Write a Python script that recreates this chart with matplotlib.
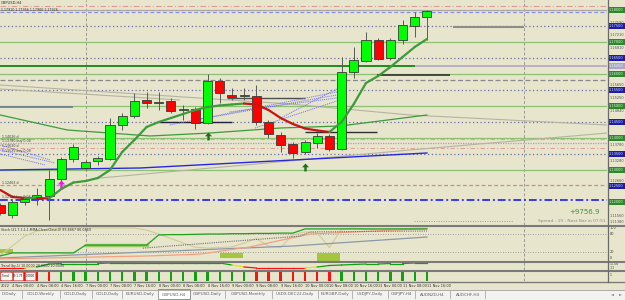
import numpy as np
import matplotlib
matplotlib.use("Agg")
import matplotlib.pyplot as plt
from matplotlib.patches import Rectangle
from matplotlib.lines import Line2D
from matplotlib.transforms import blended_transform_factory

plt.rcParams['font.family'] = ['DejaVu Sans']

# GBPUSD,H4 candles (3 Nov 20:00 .. 11 Nov 20:00)
opens = [1.11906, 1.11594, 1.12000, 1.12094, 1.12188, 1.12719, 1.13344, 1.13063, 1.13281,
         1.13344, 1.14406, 1.14688, 1.15188, 1.15094, 1.15156, 1.14875, 1.14906, 1.14469,
         1.15781, 1.15344, 1.15313, 1.15313, 1.14500, 1.14094, 1.13813, 1.13563, 1.13844,
         1.14063, 1.13656, 1.16063, 1.16406, 1.17063, 1.16500, 1.17063, 1.17500, 1.17781]
highs = [1.11969, 1.12063, 1.12188, 1.12438, 1.13000, 1.13406, 1.13813, 1.13313, 1.13438,
         1.14625, 1.14781, 1.15406, 1.15438, 1.15438, 1.15250, 1.15031, 1.14969, 1.16000,
         1.15875, 1.15563, 1.15563, 1.15656, 1.14563, 1.14188, 1.13875, 1.13938, 1.14156,
         1.14125, 1.16531, 1.16844, 1.17313, 1.17125, 1.17125, 1.17688, 1.17938, 1.18000]
lows = [1.11594, 1.11500, 1.11906, 1.11906, 1.11438, 1.12656, 1.13250, 1.13000, 1.13156,
        1.13313, 1.14250, 1.14625, 1.14938, 1.14875, 1.14781, 1.14563, 1.14281, 1.14438,
        1.15094, 1.15188, 1.15188, 1.14406, 1.14000, 1.13563, 1.13375, 1.13500, 1.13688,
        1.13594, 1.13625, 1.15875, 1.16375, 1.16438, 1.16438, 1.16938, 1.17156, 1.17063]
closes = [1.11656, 1.12000, 1.12094, 1.12219, 1.12719, 1.13344, 1.13719, 1.13250, 1.13375,
          1.14406, 1.14688, 1.15156, 1.15094, 1.15125, 1.14844, 1.14906, 1.14469, 1.15781,
          1.15406, 1.15281, 1.15344, 1.14500, 1.14125, 1.13781, 1.13531, 1.13875, 1.14063,
          1.13656, 1.16063, 1.16438, 1.17063, 1.16469, 1.17063, 1.17531, 1.17781, 1.17969]

# fast MA (green when rising, red when falling)
ma_fast = [1.12375, 1.12156, 1.12125, 1.12125, 1.12109, 1.12406, 1.12609, 1.12656, 1.12750,
           1.13000, 1.13563, 1.13938, 1.14344, 1.14500, 1.14625, 1.14750, 1.14875, 1.14969,
           1.15016, 1.15047, 1.15078, 1.15047, 1.14875, 1.14625, 1.14438, 1.14297, 1.14234,
           1.14188, 1.14500, 1.15063, 1.15719, 1.15938, 1.16219, 1.16531, 1.16844, 1.17094]
# slow MA vertices (bar, price)
slow_x = [0, 5.5, 12.3, 17.2, 23.0, 27.9, 35]
slow_y = [1.14719, 1.14250, 1.14063, 1.14156, 1.14313, 1.14375, 1.14719]
# blue trend line
trend_x = [0, 11.5, 35]
trend_y = [1.13000, 1.13063, 1.13531]

# horizontal levels: price, colour, style, width
levels = [
    (1.18125, '#e09a9a', (0, (5, 2, 1, 2)), 0.8),
    (1.18000, '#a8a8a0', '-', 0.9),
    (1.17938, '#8c8cf0', (0, (3, 2)), 0.9),
    (1.17500, '#6a6aa8', (0, (1, 2)), 0.9),
    (1.17000, '#8cc274', '-', 0.9),
    (1.16500, '#6a6aa8', (0, (1, 2)), 0.9),
    (1.16000, '#8cc274', '-', 0.9),
    (1.15813, '#8a8a8a', (0, (4, 2)), 0.9),
    (1.15500, '#6a6aa8', (0, (1, 2)), 0.9),
    (1.15000, '#8cc274', '-', 0.9),
    (1.14500, '#6a6aa8', (0, (1, 2)), 0.9),
    (1.14000, '#8cc274', '-', 0.9),
    (1.13969, '#e0a0a0', (0, (4, 2, 1, 2)), 0.8),
    (1.13844, '#a0a0d8', (0, (1, 1)), 0.9),
    (1.13688, '#e0a0a0', (0, (4, 2, 1, 2)), 0.8),
    (1.13500, '#6a6aa8', (0, (1, 2)), 0.9),
    (1.13000, '#8cc274', '-', 0.9),
    (1.12531, '#d08888', (0, (3, 2)), 0.9),
    (1.12063, '#3a3af0', (0, (4, 1.5, 1, 1.5)), 1.4),
]
# short horizontal segments: bar from, bar to, price, colour, width
segments = [
    (0, 34.0, 1.16250, '#1e8c1e', 1.4),
    (34.0, 50, 1.16250, '#b4acc8', 1.3),
    (30.9, 36.9, 1.15969, '#303030', 1.2),
    (37.1, 43.0, 1.17469, '#8c8c8c', 1.5),
    (18.6, 25.0, 1.15250, '#505050', 1.0),
    (25.0, 30.9, 1.14188, '#303030', 1.0),
    (13.0, 19.0, 1.14500, '#202040', 1.0),
    (0, 6.0, 1.14969, '#6a7a98', 1.2),
]
# faint gray lines (bar list, price list)
gray_lines = [
    ([0, 23.8, 33.6, 49.8], [1.15656, 1.15063, 1.14719, 1.14406]),
    ([0, 14.7], [1.15531, 1.15188]),
    ([8.2, 24.6, 33.6, 49.8], [1.12750, 1.13313, 1.13625, 1.14156]),
]
# blue dotted fan lines ((bar0, price0), (bar1, price1))
fan_lines = [
    ((13.9, 1.14406), (27.6, 1.15438)),
    ((16.0, 1.14563), (27.6, 1.15344)),
    ((18.8, 1.14813), (27.6, 1.15250)),
    ((20.9, 1.14313), (27.6, 1.15156)),
    ((23.0, 1.14625), (27.6, 1.15531)),
    ((0, 1.13781), (4.1, 1.13313)),
    ((0, 1.13625), (4.5, 1.13219)),
    ((0, 1.13500), (3.7, 1.13156)),
]
# signal arrows: bar, price, colour
arrows = [(17, 1.14063, '#1e6e1e'), (25, 1.13109, '#1e6e1e'), (5, 1.12547, '#e020e0')]
# left-side order labels
order_y = [1.14031, 1.13906, 1.13750, 1.13594, 1.12594, 1.12156]
order_txt = ["1.14026 d", "1.13780 buy 0.08", "1.13630 d", "1.13525 buy 0.08",
             "1.12463 d", "1.12123 buy 0.08"]

green_lv = [1.18, 1.17, 1.16, 1.15, 1.14, 1.13, 1.12]
blue_lv = [1.175, 1.165, 1.155, 1.145, 1.135, 1.125]
gray_ticks = [1.17590, 1.17210, 1.16810, 1.15650, 1.15250, 1.14840, 1.13780, 1.13280,
              1.12660, 1.11560, 1.11380]

# stochastic-like sub window
sub_green = [7, 17, 17, 17, 17, 17, 17, 43, 43, 43, 43, 43, 43, 77, 78, 78, 79, 80, 80, 81,
             81, 82, 82, 83, 83, 97, 97, 97, 97, 97, 97, 97, 97, 97, 97, 97]
sub_tan = [10, 40, 73, 90, 97, 100, 100, 100, 100, 100, 100, 100, 93, 80, 65, 50, 36, 33, 35,
           37, 50, 65, 40, 35, 77, 87, 84, 35, 97, 100, 97, 93, 97, 97, 100, 100]
sub_gray_x = [0, 12, 24, 35]
sub_gray_y = [0, 20, 40, 70]
sub_salmon_x = [0, 12.3, 16.4, 20.5, 25.4, 35]
sub_salmon_y = [-3, 7, 13, 37, 80, 98]
sub_dot_x = [11.7, 24.6, 25.4, 35]
sub_dot_y = [33, 73, 87, 90]
sub_boxes = [(-0.02, 1.04, 17, 30), (18.0, 19.9, 0, 17), (26.0, 27.9, -10, 17)]

# trend sub window
trend_vals = [2.5, 2.5, 2.5, 3.75, 7.5, 8.1, 8.1, 8.1, 8.1, 8.75, 8.75, 8.75, 8.75, 8.75,
              8.75, 8.75, 8.75, 8.75, 8.75, 6.25, 3.75, 2.5, 2.5, 2.5, 2.5, 2.5, 3.75, 5.6,
              6.25, 6.9, 7.5, 7.5, 8.1, 8.1, 8.75, 8.75]
trend_cols = list("rrryggggggggggggggggyrrrrrygggggggggg")[:36]
bar_cols = list("rrrrr" + "g" * 16 + "r" * 7 + "g" * 8)

time_labels = ["4 Nov 00:00", "4 Nov 08:00", "4 Nov 16:00", "7 Nov 00:00", "7 Nov 08:00",
               "7 Nov 16:00", "8 Nov 00:00", "8 Nov 08:00", "8 Nov 16:00", "9 Nov 00:00",
               "9 Nov 08:00", "9 Nov 16:00", "10 Nov 00:00", "10 Nov 08:00", "10 Nov 16:00",
               "11 Nov 00:00", "11 Nov 08:00", "11 Nov 16:00"]
tabs = ["D,Daily", "GOLD,Weekly", "GOLD,Daily", "GOLD,Daily", "EURUSD,Daily", "GBPUSD,H4",
        "GBPUSD,Daily", "GBPUSD,Monthly", "USDX-DEC22,Daily", "EURGBP,Daily", "USDJPY,Daily",
        "GBPJPY,H4", "AUDNZD,H4", "AUDCHF,H4"]
tab_edges = [-5, 22, 60, 92, 122, 158, 190, 225, 272, 318, 352, 388, 415, 450, 485]

BG = '#E7E5CB'
CMAP = {'r': '#ff1010', 'g': '#10a010', 'y': '#e8e020'}
W, H = 625, 300
XL = (-0.3 / 12.19, (607 - 0.3) / 12.19)
YTOP, PX = 1.183125, 0.0003125
ARROW = [(0, 1), (-0.9, 0.05), (-0.3, 0.05), (-0.3, -1), (0.3, -1), (0.3, 0.05),
         (0.9, 0.05), (0, 1)]

fig = plt.figure(figsize=(6.25, 3.0), dpi=100)
fig.patch.set_facecolor(BG)


def px_axes(x0, y0, x1, y1):
    return fig.add_axes([x0 / W, 1 - y1 / H, (x1 - x0) / W, (y1 - y0) / H])


ax = px_axes(0, 0, 607, 225)
s1 = px_axes(0, 226, 607, 261)
s2 = px_axes(0, 262, 607, 270)
s3 = px_axes(0, 271, 607, 281)
for a in (ax, s1, s2, s3):
    a.set_facecolor(BG)
    a.set_xlim(XL)
    a.set_xticks([])
    a.set_yticks([])
    for sp in a.spines.values():
        sp.set_visible(False)
ax.set_ylim(YTOP - 225 * PX, YTOP)
s1.set_ylim(-10, 106.7)
s2.set_ylim(0, 10)
s3.set_ylim(0, 1)

# ---- main window ----
for p, col, ls, lw in levels:
    ax.axhline(p, color=col, ls=ls, lw=lw, zorder=1)
for x0, x1, p, col, lw in segments:
    ax.hlines(p, x0, x1, color=col, lw=lw, zorder=2)
for xs, ys in gray_lines:
    ax.plot(xs, ys, color='#b4b4a0', lw=0.8, zorder=1)
for (x0, y0), (x1, y1) in fan_lines:
    ax.plot([x0, x1], [y0, y1], color='#7070f0', lw=0.7, ls=(0, (1, 1)), zorder=2)
ax.plot(trend_x, trend_y, color='#2828e0', lw=1.0, zorder=2)
ax.plot(slow_x, slow_y, color='#3c9c3c', lw=0.9, zorder=3)
ax.hlines(1.11406, 33.9, 42.1, color='#9a9a8a', lw=0.7, ls=(0, (1, 1.5)))

for i in range(len(ma_fast) - 1):
    col = '#3c9c3c' if ma_fast[i + 1] >= ma_fast[i] else '#c81414'
    ax.plot([i, i + 1], ma_fast[i:i + 2], color=col, lw=1.6, zorder=6,
            solid_capstyle='round')

o, h, l, c = map(np.array, (opens, highs, lows, closes))
idx = np.arange(len(o))
up = c >= o
ax.vlines(idx, l, h, color='#5a5a5a', lw=0.7, zorder=4)
ax.bar(idx, np.maximum(np.abs(c - o), 0.0003), bottom=np.minimum(o, c), width=0.74,
       color=np.where(up, '#00ff00', '#ff0000'), edgecolor='#3a3a3a', linewidth=0.6,
       zorder=5)

for bx, p, col in arrows:
    ax.scatter([bx], [p], marker=ARROW, s=32, color=col, zorder=7, linewidths=0)
for p, t in zip(order_y, order_txt):
    ax.text(0.1, p, t, fontsize=2.3, color='#404040', va='center', ha='left', zorder=7)

ytr = ax.get_yaxis_transform()
for p in green_lv:
    ax.text(1.003, p, f"{p:.5f}", transform=ytr, fontsize=2.5, color='#e8f0e8', va='center',
            ha='left', clip_on=False,
            bbox=dict(boxstyle='square,pad=0.35', fc='#2a8a2a', ec='none'))
for p in blue_lv:
    ax.text(1.003, p, f"{p:.5f}", transform=ytr, fontsize=2.5, color='#e0e0f8', va='center',
            ha='left', clip_on=False,
            bbox=dict(boxstyle='square,pad=0.35', fc='#1e1ea0', ec='none'))
ax.text(1.003, 1.1625, "1.16250", transform=ytr, fontsize=2.5, color='#f0f0f0', va='center',
        ha='left', clip_on=False,
        bbox=dict(boxstyle='square,pad=0.35', fc='#a8a8c8', ec='none'))
for p in gray_ticks:
    ax.text(1.004, p, f"{p:.5f}", transform=ytr, fontsize=2.5, color='#505050', va='center',
            ha='left', clip_on=False)

fig.text(1 / W, 1 - 3 / H, "GBPUSD,H4", fontsize=2.6, color='#303030', va='center')
fig.text(1 / W, 1 - 10 / H, "1.17910 1.17956 1.17900 1.17926", fontsize=2.3,
         color='#303030', va='center')
fig.text(600 / W, 1 - 212 / H, "+9756.9", fontsize=5, color='#3e903e', va='center',
         ha='right')
fig.text(606 / W, 1 - 221 / H, "Spread : 19 : Next Bar in 07:51", fontsize=3.2,
         color='#8a8a80', va='center', ha='right')

# ---- sub window 1 ----
for lv in (80, 20):
    s1.axhline(lv, color='#8a8a8a', lw=0.6, ls=(0, (1, 2)))
for x0, x1, v0, v1 in sub_boxes:
    s1.add_patch(Rectangle((x0, v0), x1 - x0, v1 - v0, fc='#a3c63c', ec='none', zorder=1))
s1.plot(idx, sub_tan, color='#d2ca98', lw=0.8, zorder=2)
s1.plot(sub_gray_x, sub_gray_y, color='#8c98a8', lw=0.9, zorder=2)
s1.plot(sub_salmon_x, sub_salmon_y, color='#f4a080', lw=0.9, zorder=2)
s1.plot(sub_dot_x, sub_dot_y, color='#707070', lw=0.8, ls=(0, (1, 1)), zorder=3)
s1.plot(idx[7:13], sub_green[7:13], color='#9ccc6a', lw=2.5, zorder=3)
s1.plot(idx, sub_green, color='#20a020', lw=0.9, zorder=4)
s1.text(0.002, 0.88, "Stoch (21,7,3,1,1,MMA,Close/Close,0) 85.6667 86.0869",
        transform=s1.transAxes, fontsize=2.3, color='#303030', va='center')
for v in (100, 80, 20, 0):
    s1.text(1.004, v, str(v), transform=s1.get_yaxis_transform(), fontsize=2.5,
            color='#404040', va='center', clip_on=False)

# ---- sub window 2 ----
for i in range(1, len(trend_vals)):
    s2.plot([i - 1, i], trend_vals[i - 1:i + 1], color=CMAP[trend_cols[i]], lw=0.9)
s2.text(0.002, 0.5, "Trend (by-1) 10.0000 20.0000 10.0000", transform=s2.transAxes,
        fontsize=2.3, color='#303030', va='center')
s2.text(1.004, 8, "11.56", transform=s2.get_yaxis_transform(), fontsize=2.3,
        color='#404040', va='center', clip_on=False)
s2.text(1.004, 3, "-11", transform=s2.get_yaxis_transform(), fontsize=2.3,
        color='#404040', va='center', clip_on=False)

# ---- sub window 3 ----
s3.bar(idx, 0.85, bottom=0.05, width=0.2, color=[CMAP[k] for k in bar_cols])
for x0, x1, t in [(0, 12, "Trend"), (13, 23, "19.1.75"), (25, 35, "0.0000")]:
    fig.add_artist(Rectangle((x0 / W, 1 - 280 / H), (x1 - x0) / W, 8 / H,
                             transform=fig.transFigure, fc='#f8f8f0', ec='#c04040', lw=0.4))
    fig.text((x0 + x1) / 2 / W, 1 - 276 / H, t, fontsize=2.0, color='#202020',
             ha='center', va='center')
s3.text(1.004, 0.6, "1", transform=s3.get_yaxis_transform(), fontsize=2.3,
        color='#404040', va='center', clip_on=False)

# ---- period separators ----
for a in (ax, s1, s2, s3):
    for sx in (7, 43):
        a.axvline(sx, color='#9a9a90', lw=0.7, ls=(0, (3, 2)), zorder=0.5)

# ---- frames ----
for yy in (225.5, 261.5, 270.5):
    fig.add_artist(Line2D([0, 1], [1 - yy / H] * 2, color='#7a7a7a', lw=1.5))
fig.add_artist(Line2D([0, 1], [1 - 281.5 / H] * 2, color='#7a7a7a', lw=1.0))
fig.add_artist(Line2D([607.5 / W] * 2, [1 - 281.5 / H, 1], color='#6a6a6a', lw=0.9))

# ---- time axis ----
tt = blended_transform_factory(s3.transData, fig.transFigure)
for k, t in enumerate(time_labels):
    fig.text(1 + 2 * k, 1 - 286 / H, t, transform=tt, fontsize=2.5, color='#303030',
             va='center', ha='left')
fig.text(0.5 / W, 1 - 286 / H, "2022", fontsize=2.5, color='#303030', va='center',
         ha='left')

# ---- tab bar ----
fig.add_artist(Rectangle((0, 0), 1, 10.5 / H, transform=fig.transFigure,
                         fc='#f2f2f0', ec='none'))
fig.add_artist(Line2D([0, 1], [10.5 / H] * 2, color='#a0a0a0', lw=0.6))
for k, t in enumerate(tabs):
    x0, x1 = tab_edges[k], tab_edges[k + 1]
    if t == "GBPUSD,H4":
        fig.add_artist(Rectangle((x0 / W, 1.5 / H), (x1 - x0) / W, 9.5 / H,
                                 transform=fig.transFigure, fc='white', ec='#808080',
                                 lw=0.6))
    else:
        fig.add_artist(Line2D([x1 / W] * 2, [2 / H, 9 / H], color='#a8a8a8', lw=0.6))
    fig.text((x0 + x1) / 2 / W, 5.5 / H, t, fontsize=3.0, color='#606060', ha='center',
             va='center')
fig.text(612 / W, 5.5 / H, "\u25c4", fontsize=2.8, color='#808080', ha='center',
         va='center')
fig.text(620 / W, 5.5 / H, "\u25ba", fontsize=2.8, color='#808080', ha='center',
         va='center')

fig.savefig("out.png", dpi=100, facecolor=BG)
